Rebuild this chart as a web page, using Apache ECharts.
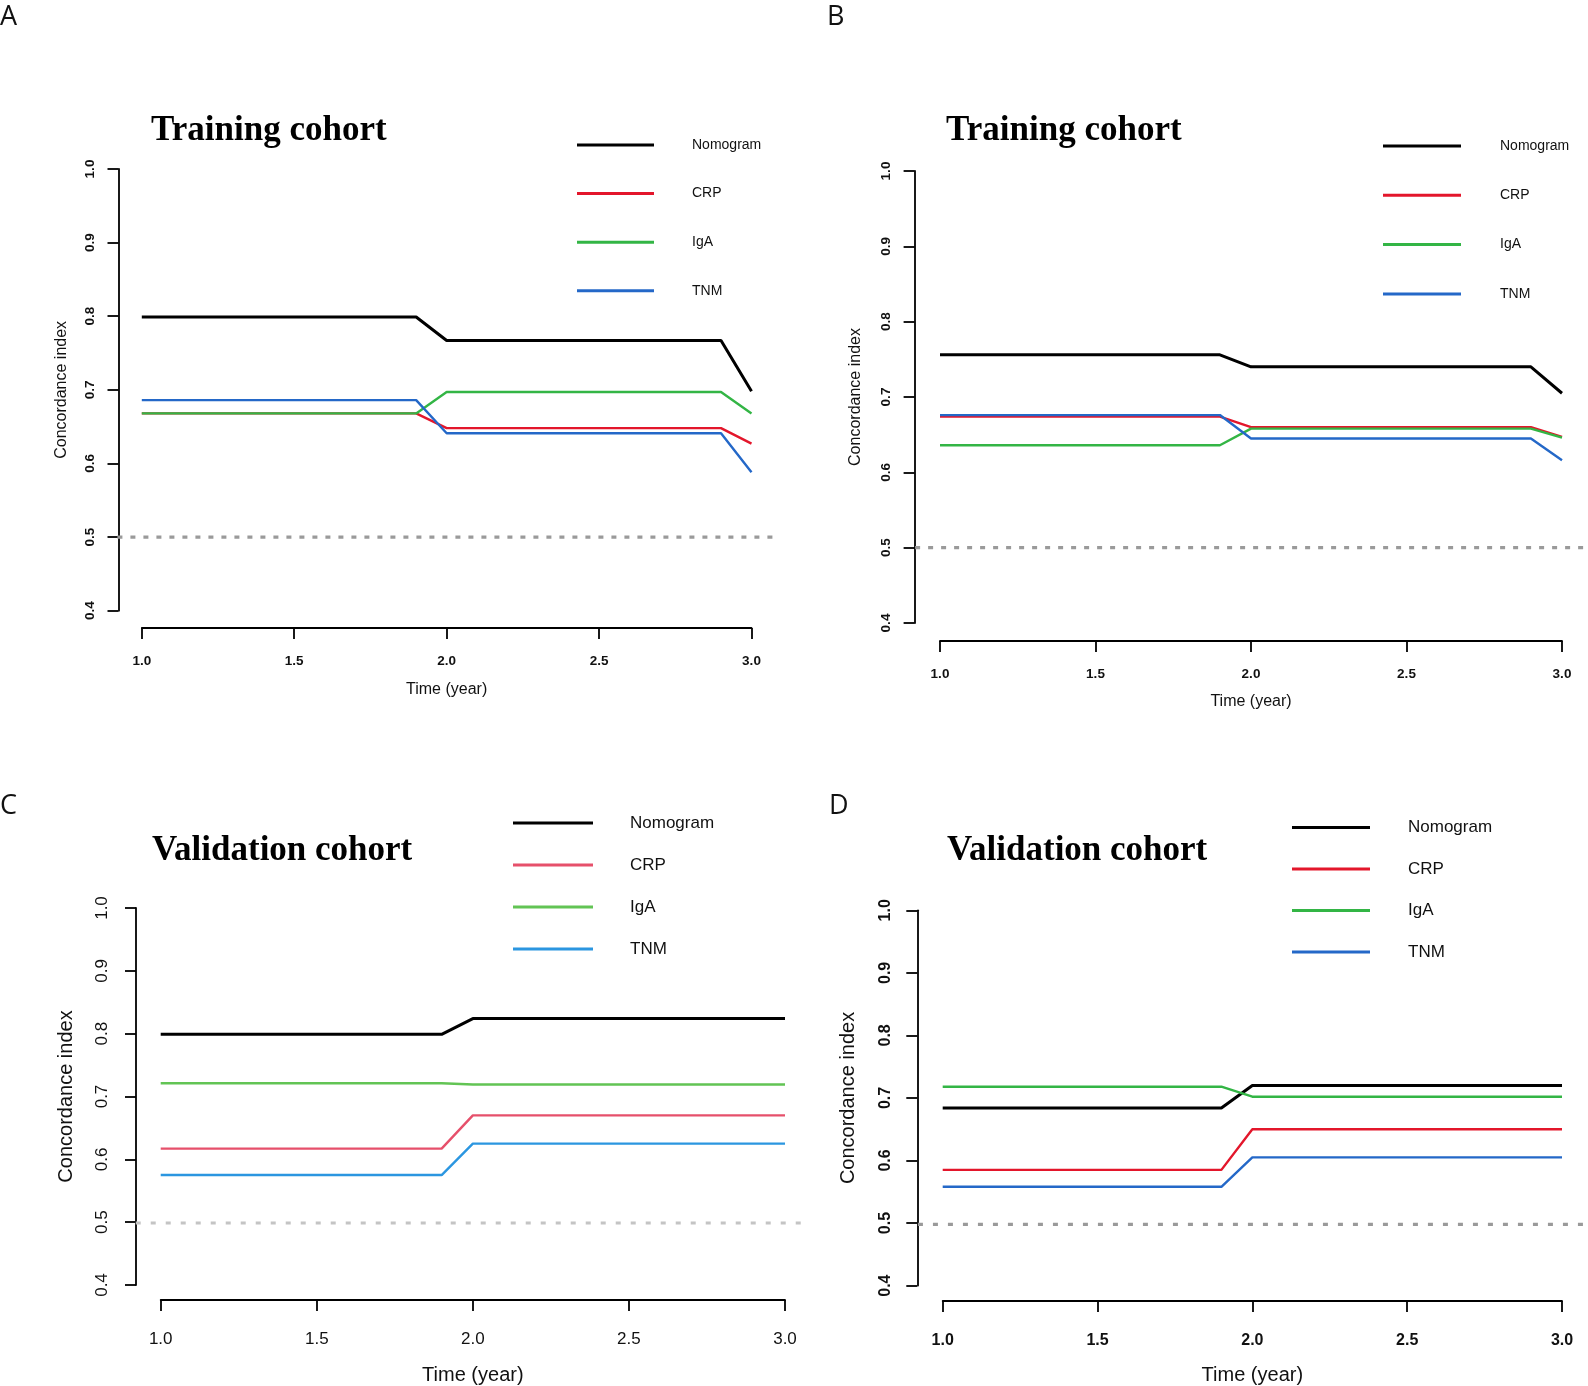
<!DOCTYPE html>
<html>
<head>
<meta charset="utf-8">
<script src="https://cdn.jsdelivr.net/npm/echarts@6/dist/echarts.min.js"></script>
<style>
html, body { margin: 0; padding: 0; background: #fff; }
#chart-panel { width: 1588px; height: 1386px; }
</style>
</head>
<body>
<div id="chart-panel"></div>
<script>
// time points (year) and C-index per model
var times = [1.0, 1.9, 2.0, 2.9, 3.0];
var seriesNames = ['Nomogram', 'CRP', 'IgA', 'TNM'];
var refLine = 0.5;

// A: training cohort
var nomogramA = [0.799, 0.799, 0.767, 0.767, 0.698];
var crpA = [0.668, 0.668, 0.648, 0.648, 0.627];
var igaA = [0.668, 0.668, 0.697, 0.697, 0.668];
var tnmA = [0.686, 0.686, 0.641, 0.641, 0.588];

// B: training cohort
var nomogramB = [0.756, 0.756, 0.740, 0.740, 0.705];
var crpB = [0.674, 0.674, 0.660, 0.660, 0.647];
var igaB = [0.636, 0.636, 0.658, 0.658, 0.646];
var tnmB = [0.676, 0.676, 0.645, 0.645, 0.616];

// C: validation cohort
var nomogramC = [0.799, 0.799, 0.824, 0.824, 0.824];
var crpC = [0.617, 0.617, 0.670, 0.670, 0.670];
var igaC = [0.721, 0.721, 0.719, 0.719, 0.719];
var tnmC = [0.575, 0.575, 0.625, 0.625, 0.625];

// D: validation cohort
var nomogramD = [0.684, 0.684, 0.720, 0.720, 0.720];
var crpD = [0.585, 0.585, 0.650, 0.650, 0.650];
var igaD = [0.718, 0.718, 0.702, 0.702, 0.702];
var tnmD = [0.558, 0.558, 0.605, 0.605, 0.605];

var colorsDark = ['#000000', '#e3162b', '#33b545', '#2468c8'];
var colorsLight = ['#000000', '#e6506b', '#62c454', '#2b96e0'];

var panels = [
    {
        key: 'A', letter: [0, 4], title: 'Training cohort', titlePos: [151, 113],
        grid: { left: 141.8, top: 169, width: 609.7, height: 441.7 }, xOff: 17.4, yOff: 23.3,
        tickFont: 13.5, tickWeight: 'bold', nameFont: 16, xNameGap: 53, yNameGap: 49,
        xLabelMargin: 26, yLabelMargin: 21,
        legend: { left: 577, top: 137, itemWidth: 77, itemGap: 32.6, font: 14, pad: 33 },
        colors: colorsDark, dotColor: '#9a9a9a', dash: [5, 8],
        data: [nomogramA, crpA, igaA, tnmA]
    },
    {
        key: 'B', letter: [827, 4], title: 'Training cohort', titlePos: [946, 113],
        grid: { left: 940, top: 171, width: 622, height: 452 }, xOff: 18, yOff: 25.4,
        tickFont: 13.5, tickWeight: 'bold', nameFont: 16, xNameGap: 53, yNameGap: 51,
        xLabelMargin: 26, yLabelMargin: 21,
        legend: { left: 1383, top: 138, itemWidth: 78, itemGap: 33.3, font: 14, pad: 34 },
        colors: colorsDark, dotColor: '#9a9a9a', dash: [5, 8],
        data: [nomogramB, crpB, igaB, tnmB]
    },
    {
        key: 'C', letter: [0, 793], title: 'Validation cohort', titlePos: [152, 833],
        grid: { left: 160.7, top: 908, width: 624.3, height: 378 }, xOff: 15, yOff: 24.7,
        tickFont: 17, tickWeight: 'normal', nameFont: 20, xNameGap: 65, yNameGap: 60,
        xLabelMargin: 31, yLabelMargin: 25,
        legend: { left: 513, top: 813.5, itemWidth: 80, itemGap: 23, font: 17, pad: 32 },
        colors: colorsLight, dotColor: '#c4c4c4', dash: [5, 10],
        data: [nomogramC, crpC, igaC, tnmC]
    },
    {
        key: 'D', letter: [829, 793], title: 'Validation cohort', titlePos: [947, 833],
        grid: { left: 942.7, top: 910.3, width: 619.3, height: 377 }, xOff: 15.4, yOff: 25.4,
        tickFont: 16, tickWeight: 'bold', nameFont: 20, xNameGap: 64, yNameGap: 59,
        xLabelMargin: 32, yLabelMargin: 24,
        legend: { left: 1292, top: 818, itemWidth: 78, itemGap: 22.5, font: 17, pad: 33 },
        colors: colorsDark, dotColor: '#9a9a9a', dash: [5, 10],
        data: [nomogramD, crpD, igaD, tnmD]
    }
];

var sans = 'Liberation Sans, Arial, sans-serif';
var fmt1 = function (v) { return v.toFixed(1); };
// R pads the plot region by 4% of the data range on each side
var pad = 0.04;

var titles = [], grids = [], xAxes = [], yAxes = [], legends = [], series = [];

panels.forEach(function (p, i) {
    titles.push({
        text: p.key, left: p.letter[0], top: p.letter[1], padding: 0,
        textStyle: { fontFamily: 'Open Sans, sans-serif', fontSize: 27, fontWeight: 'normal', color: '#111' }
    });
    titles.push({
        text: p.title, left: p.titlePos[0], top: p.titlePos[1], padding: 0,
        textStyle: { fontFamily: 'Liberation Serif, Times New Roman, serif', fontSize: 35, fontWeight: 'bold', color: '#000' }
    });

    grids.push(p.grid);

    var axisLine = { show: true, onZero: false, lineStyle: { color: '#000', width: 1.8 } };
    var axisTick = { show: true, inside: false, length: 11, lineStyle: { color: '#000', width: 1.8 } };

    xAxes.push({
        gridIndex: i, type: 'value', min: 1, max: 3, interval: 0.5, offset: p.xOff,
        axisLine: axisLine, axisTick: axisTick, splitLine: { show: false },
        axisLabel: { margin: p.xLabelMargin, fontSize: p.tickFont, fontWeight: p.tickWeight, fontFamily: sans, color: '#111', formatter: fmt1 },
        name: 'Time (year)', nameLocation: 'middle', nameGap: p.xNameGap,
        nameTextStyle: { fontSize: p.nameFont, fontFamily: sans, color: '#111' }
    });
    yAxes.push({
        gridIndex: i, type: 'value', min: 0.4, max: 1.0, interval: 0.1, offset: p.yOff,
        axisLine: axisLine, axisTick: axisTick, splitLine: { show: false },
        axisLabel: { margin: p.yLabelMargin, rotate: 90, fontSize: p.tickFont, fontWeight: p.tickWeight, fontFamily: sans, color: '#111', formatter: fmt1 },
        name: 'Concordance index', nameLocation: 'middle', nameRotate: 90, nameGap: p.yNameGap,
        nameTextStyle: { fontSize: p.nameFont, fontFamily: sans, color: '#111' }
    });

    var legendData = [];
    seriesNames.forEach(function (name, k) {
        var sname = p.key + '-' + name;
        legendData.push(sname);
        series.push({
            name: sname, type: 'line', xAxisIndex: i, yAxisIndex: i,
            symbol: 'none', z: 3 + k,
            data: times.map(function (t, j) { return [t, p.data[k][j]]; }),
            itemStyle: { color: p.colors[k] },
            lineStyle: { color: p.colors[k], width: k === 0 ? 3 : 2.4 }
        });
    });

    legends.push({
        data: legendData, orient: 'vertical', left: p.legend.left, top: p.legend.top,
        padding: 0, icon: 'rect', itemWidth: p.legend.itemWidth, itemHeight: 3,
        itemGap: p.legend.itemGap, selectedMode: false,
        formatter: function (name) { return name.slice(2); },
        textStyle: {
            fontSize: p.legend.font, fontFamily: sans, color: '#111',
            lineHeight: p.legend.font + 2, padding: [0, 0, 0, p.legend.pad]
        }
    });
});

// hidden overlay grids covering the full (padded) plot region, for abline(h = 0.5)
panels.forEach(function (p, i) {
    var g = p.grid;
    var idx = panels.length + i;
    grids.push({
        left: g.left - g.width * pad, top: g.top - g.height * pad,
        width: g.width * (1 + 2 * pad), height: g.height * (1 + 2 * pad)
    });
    xAxes.push({ gridIndex: idx, type: 'value', show: false, min: 1 - 2 * pad, max: 3 + 2 * pad });
    yAxes.push({ gridIndex: idx, type: 'value', show: false, min: 0.4 - 0.6 * pad, max: 1.0 + 0.6 * pad });
    series.push({
        name: p.key + '-ref', type: 'line', xAxisIndex: idx, yAxisIndex: idx,
        symbol: 'none', silent: true, z: 1,
        data: [[1 - 2 * pad, refLine], [3 + 2 * pad, refLine]],
        lineStyle: { color: p.dotColor, width: 3.2, type: p.dash }
    });
});

var chartOption = {
    backgroundColor: '#fff',
    animation: false,
    title: titles,
    grid: grids,
    xAxis: xAxes,
    yAxis: yAxes,
    legend: legends,
    series: series
};

var myChart = echarts.init(document.getElementById('chart-panel'));
myChart.setOption(chartOption);
</script>
</body>
</html>
